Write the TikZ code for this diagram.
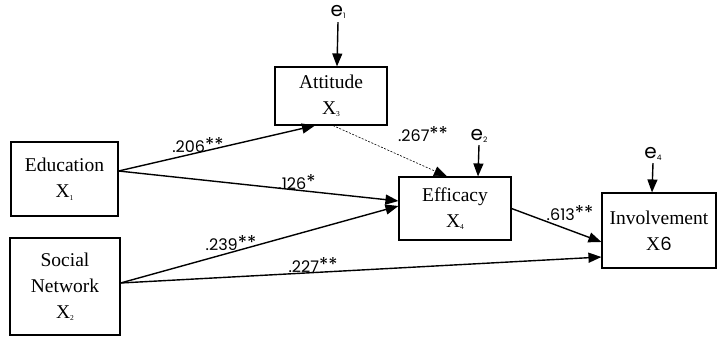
\documentclass[tikz,border=0pt]{standalone}
\usepackage{fontspec}
\setmainfont{Liberation Serif}
\newfontfamily\coeffont{Poppins}
\usetikzlibrary{arrows.meta}

\newcommand{\subx}[1]{\raisebox{-2.5pt}{\fontsize{7.5}{7.5}\selectfont #1}}
\newcommand{\stars}[1]{\raisebox{1pt}{\fontsize{19}{19}\selectfont #1}}

\tikzset{
  var/.style={draw, line width=1.1pt, rectangle, align=center, inner sep=0pt,
              font=\fontsize{19.5}{26}\selectfont},
  path/.style={line width=1.4pt, -{Triangle[length=13pt,width=10pt]}},
  weak/.style={line width=0.6pt, dash pattern=on 2pt off 1.5pt, -{Triangle[length=13pt,width=10pt]}},
  err/.style={line width=1.4pt, -{Triangle[length=13pt,width=10pt]}},
  coef/.style={font=\coeffont\fontsize{16}{16}\selectfont, inner sep=0pt},
  elab/.style={font=\coeffont\fontsize{20}{20}\selectfont, inner sep=0pt}
}

\begin{document}
\begin{tikzpicture}[x=1pt, y=-1pt]
  \useasboundingbox (0,0) rectangle (718,337);

  % variables
  \node[var, minimum width=107pt, minimum height=74pt] (edu) at (64.5,179) {Education\\X\subx{1}};
  \node[var, minimum width=110pt, minimum height=97pt] (soc) at (65,286.5) {Social\\Network\\X\subx{2}};
  \node[var, minimum width=112pt, minimum height=58pt] (att) at (331,96) {Attitude\\X\subx{3}};
  \node[var, minimum width=112pt, minimum height=63pt] (eff) at (455,208.5) {Efficacy\\X\subx{4}};
  \node[var, minimum width=114pt, minimum height=75pt] (inv) at (659,230.5) {Involvement\\X{\coeffont\fontsize{18}{18}\selectfont 6}};

  % error terms
  \node[elab] (e1) at (338,12) {e\subx{1}};
  \node[elab] (e2) at (479,136) {e\subx{2}};
  \node[elab] (e4) at (653,154) {e\subx{4}};

  \draw[err] ([yshift=-3pt]e1.south) -- ([xshift=6pt]att.north);
  \draw[err] ([yshift=-2pt]e2.south) -- ([xshift=23pt]eff.north);
  \draw[err] ([yshift=-2pt]e4.south) -- ([xshift=-7pt]inv.north);

  % structural paths
  \draw[path] ([yshift=8pt]edu.east) -- ([xshift=-16pt]att.south);
  \draw[path] ([yshift=8pt]edu.east) -- ([yshift=7.5pt]eff.west);
  \draw[path] ([yshift=3.5pt]soc.east) -- ([yshift=2.5pt]eff.west);
  \draw[path] ([yshift=3.5pt]soc.east) -- ([yshift=-26.5pt]inv.west);
  \draw[path] (eff.east) -- ([yshift=-11.5pt]inv.west);
  \draw[weak] ([xshift=2pt]att.south) -- ([xshift=-8pt]eff.north);

  % path coefficients
  \node[coef] (c1) at (198,145) {.206\stars{**}};
  \node[coef] (c2) at (297,182) {.126\stars{*}};
  \node[coef] (c3) at (231,243) {.239\stars{**}};
  \node[coef] (c4) at (313,265) {.227\stars{**}};
  \node[coef] (c5) at (423,134) {.267\stars{**}};
  \node[coef] (c6) at (570,213) {.613\stars{**}};
\end{tikzpicture}
\end{document}
